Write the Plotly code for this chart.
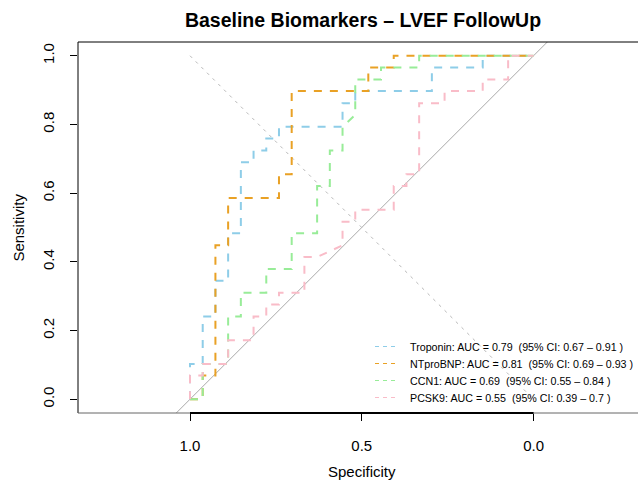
import plotly.graph_objects as go

# ---- data (specificity / sensitivity vertices) ----
troponin_spec = [1.000, 1.000, 0.963, 0.963, 0.926, 0.926, 0.889, 0.889, 0.852, 0.852, 0.815, 0.815,
                 0.778, 0.778, 0.741, 0.741, 0.556, 0.556, 0.519, 0.519, 0.296, 0.296, 0.148, 0.148, 0.000]
troponin_sens = [0.000, 0.103, 0.103, 0.241, 0.241, 0.345, 0.345, 0.483, 0.483, 0.690, 0.690, 0.724,
                 0.724, 0.759, 0.759, 0.793, 0.793, 0.862, 0.862, 0.897, 0.897, 0.966, 0.966, 1.000, 1.000]

ntprobnp_spec = [1.000, 0.963, 0.963, 0.926, 0.926, 0.889, 0.889, 0.741, 0.741, 0.704, 0.704, 0.481,
                 0.481, 0.407, 0.407, 0.000]
ntprobnp_sens = [0.000, 0.000, 0.069, 0.069, 0.448, 0.448, 0.586, 0.586, 0.655, 0.655, 0.897, 0.897,
                 0.966, 0.966, 1.000, 1.000]

ccn1_spec = [1.000, 0.963, 0.963, 0.889, 0.889, 0.852, 0.852, 0.778, 0.778, 0.704, 0.704, 0.630,
             0.630, 0.593, 0.593, 0.556, 0.556, 0.519, 0.519, 0.444, 0.444, 0.333, 0.333, 0.000]
ccn1_sens = [0.000, 0.000, 0.103, 0.103, 0.241, 0.241, 0.310, 0.310, 0.379, 0.379, 0.483, 0.483,
             0.621, 0.621, 0.724, 0.724, 0.793, 0.828, 0.931, 0.931, 0.966, 0.966, 1.000, 1.000]

pcsk9_spec = [1.000, 1.000, 0.963, 0.963, 0.889, 0.889, 0.815, 0.815, 0.778, 0.778, 0.741, 0.741,
              0.667, 0.667, 0.630, 0.556, 0.556, 0.519, 0.519, 0.407, 0.407, 0.370, 0.370, 0.333,
              0.333, 0.259, 0.259, 0.148, 0.148, 0.074, 0.074, 0.000]
pcsk9_sens = [0.000, 0.069, 0.069, 0.103, 0.103, 0.172, 0.172, 0.241, 0.241, 0.276, 0.276, 0.310,
              0.310, 0.414, 0.414, 0.448, 0.517, 0.517, 0.552, 0.552, 0.621, 0.621, 0.655, 0.655,
              0.862, 0.862, 0.897, 0.897, 0.931, 0.931, 1.000, 1.000]

series_names = ["Troponin", "NTproBNP", "CCN1", "PCSK9"]
auc_values = ["0.79", "0.81", "0.69", "0.55"]
ci_low = ["0.67", "0.69", "0.55", "0.39"]
ci_high = ["0.91", "0.93", "0.84", "0.7"]
series_colors = ["#8ECDE8", "#E9A125", "#98EC98", "#F9BCC8"]

x_tick_vals = [1.0, 0.5, 0.0]
x_tick_text = ["1.0", "0.5", "0.0"]
y_tick_vals = [0.0, 0.2, 0.4, 0.6, 0.8, 1.0]
y_tick_text = ["0.0", "0.2", "0.4", "0.6", "0.8", "1.0"]

title_text = "Baseline Biomarkers – LVEF FollowUp"
FONT = "Liberation Sans, Arial, Helvetica, sans-serif"
NB = "\u00a0"

fig = go.Figure()

# identity (chance) line and sens = spec reference line
fig.add_trace(go.Scatter(x=[1.6, -0.6], y=[-0.6, 1.6], mode="lines",
                         line=dict(color="#A9A9A9", width=1), hoverinfo="skip", showlegend=False))
fig.add_trace(go.Scatter(x=[1.0, 0.0], y=[1.0, 0.0], mode="lines",
                         line=dict(color="#B8B8B8", width=1, dash="3px,5px"),
                         hoverinfo="skip", showlegend=False))

curves = [(troponin_spec, troponin_sens), (ntprobnp_spec, ntprobnp_sens),
          (ccn1_spec, ccn1_sens), (pcsk9_spec, pcsk9_sens)]
for (sx, sy), name, col in zip(curves, series_names, series_colors):
    fig.add_trace(go.Scatter(x=sx, y=sy, mode="lines", name=name,
                             line=dict(color=col, width=2, dash="8px,8px"),
                             showlegend=False))

shapes = [
    dict(type="line", xref="paper", yref="paper", x0=0, x1=1, y0=1, y1=1,
         line=dict(color="black", width=1)),
    dict(type="line", xref="paper", yref="paper", x0=0, x1=0, y0=0, y1=1,
         line=dict(color="black", width=1)),
    dict(type="line", xref="paper", yref="paper", x0=0, x1=1, y0=0, y1=0,
         line=dict(color="#666666", width=1)),
    dict(type="line", xref="x", yref="paper", x0=1.0, x1=0.0, y0=0, y1=0,
         line=dict(color="black", width=2)),
]

annotations = [
    dict(text="Specificity", xref="x", yref="paper", x=0.5, y=-0.159, showarrow=False,
         xanchor="center", yanchor="middle", font=dict(family=FONT, size=15, color="black")),
    dict(text="Sensitivity", xref="paper", yref="y", x=-0.107, y=0.5, showarrow=False,
         textangle=-90, xanchor="center", yanchor="middle",
         font=dict(family=FONT, size=15, color="black")),
]

# legend (bottom right, no box)
leg_rows_y = [346.5, 363.5, 380.5, 397.5]
for i, (name, auc, lo, hi, col) in enumerate(zip(series_names, auc_values, ci_low, ci_high, series_colors)):
    ypix = leg_rows_y[i]
    yp = (413 - ypix) / 371.0
    shapes.append(dict(type="line", xref="paper", yref="paper",
                       x0=(375 - 78) / 560.0, x1=(397 - 78) / 560.0, y0=yp, y1=yp,
                       line=dict(color=col, width=1.2, dash="4px,4px")))
    annotations.append(dict(text=f"{name}: AUC = {auc} {NB}(95% CI: {lo} – {hi} )",
                            xref="paper", yref="paper", x=(408 - 78) / 560.0, y=yp,
                            xanchor="left", yanchor="middle", showarrow=False,
                            font=dict(family=FONT, size=10.7, color="black")))

fig.update_layout(
    width=638, height=481,
    margin=dict(l=78, r=0, t=42, b=68, pad=0),
    paper_bgcolor="white", plot_bgcolor="white",
    title=dict(text=f"<b>{title_text}</b>", xref="container", yref="container",
               x=363 / 638, y=1 - 20 / 481, xanchor="center", yanchor="middle",
               font=dict(family=FONT, size=19.5, color="black")),
    xaxis=dict(range=[1.326, -0.304], tickvals=x_tick_vals, ticktext=x_tick_text,
               ticks="outside", ticklen=7, tickwidth=1, tickcolor="black",
               showgrid=False, zeroline=False, showline=False, ticklabelstandoff=12,
               tickfont=dict(family=FONT, size=15, color="black")),
    yaxis=dict(range=[-0.04, 1.04], tickvals=y_tick_vals, ticktext=y_tick_text,
               ticks="outside", ticklen=7, tickwidth=1, tickcolor="black", tickangle=-90,
               showgrid=False, zeroline=False, showline=False, ticklabelstandoff=10,
               tickfont=dict(family=FONT, size=15, color="black")),
    shapes=shapes, annotations=annotations, showlegend=False,
)

fig.write_html("out.html",
               config={"displayModeBar": False, "staticPlot": True},
               post_script="document.body.style.margin='0';document.body.style.padding='0';")
